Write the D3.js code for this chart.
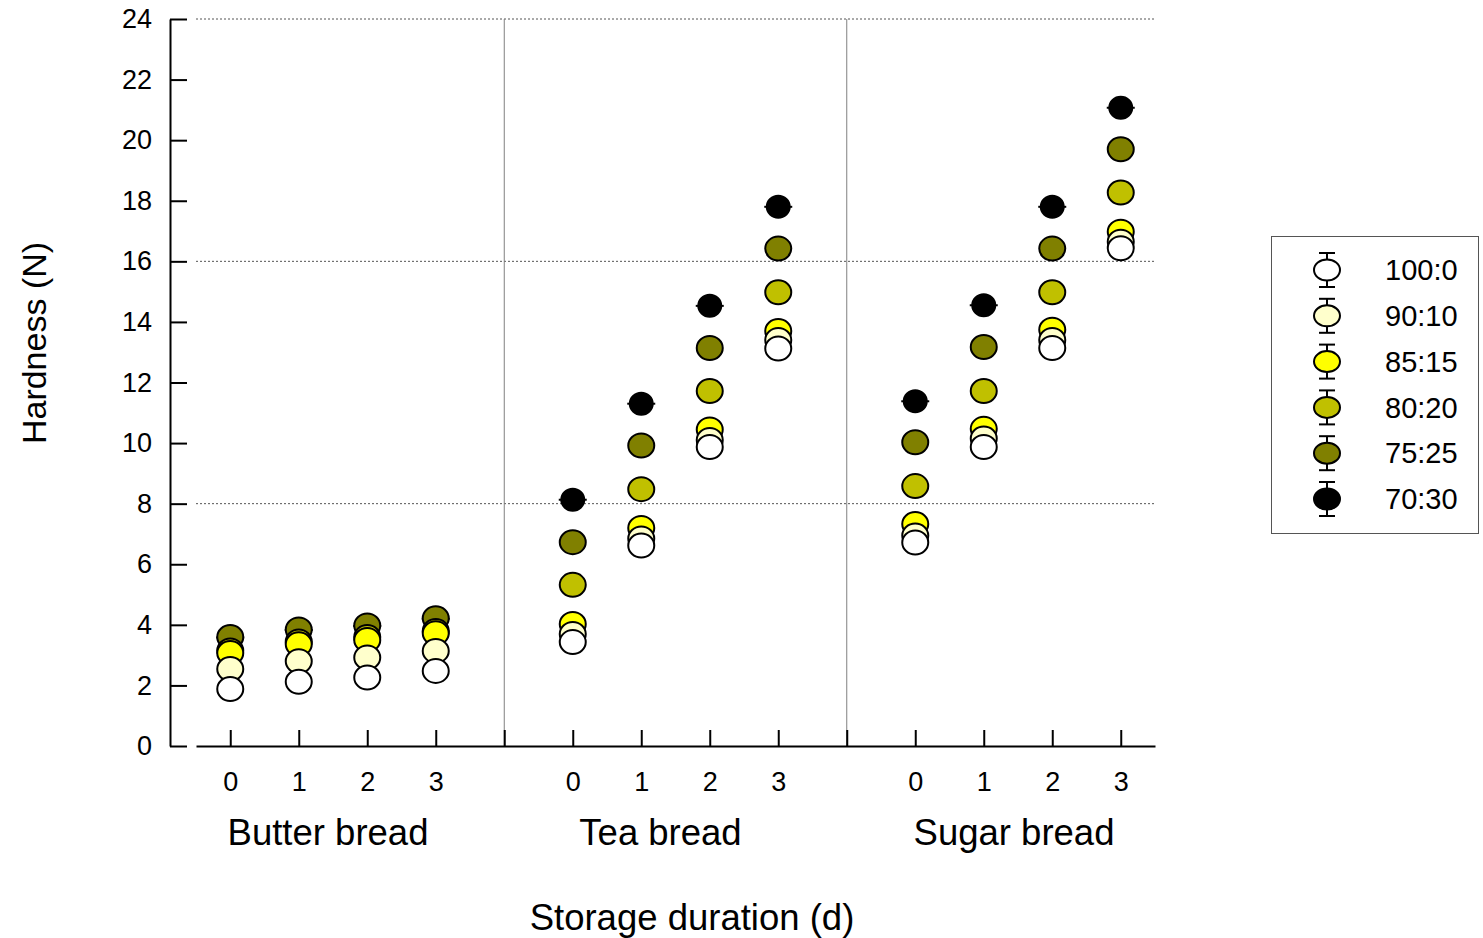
<!DOCTYPE html>
<html>
<head>
<meta charset="utf-8">
<script src="https://cdn.jsdelivr.net/npm/d3@7"></script>
<style>
  html, body { margin: 0; padding: 0; background: #fff; }
  svg { display: block; font-family: "Liberation Sans", Arial, sans-serif; }
</style>
</head>
<body>
<svg id="chart" width="1483" height="938"></svg>
<script>
// Bread types and storage days shown on the x axis
const breads = ["Butter bread", "Tea bread", "Sugar bread"];
const days = [0, 1, 2, 3];
const yTicks = [0, 2, 4, 6, 8, 10, 12, 14, 16, 18, 20, 22, 24];
const gridValues = [8, 16, 24];

// Substitution ratios (legend order) and their fill colours
const ratios = ["100:0", "90:10", "85:15", "80:20", "75:25", "70:30"];
const fills = ["#ffffff", "#ffffcc", "#ffff00", "#c0c000", "#808000", "#000000"];

// Hardness (N): butter d0-3, tea d0-3, sugar d0-3
const hard100_0 = [1.88, 2.12, 2.26, 2.48, 3.43, 6.62, 9.87, 13.12, 6.72, 9.87, 13.14, 16.43];
const hard90_10 = [2.54, 2.80, 2.92, 3.14, 3.70, 6.85, 10.10, 13.40, 6.95, 10.15, 13.40, 16.65];
const hard85_15 = [3.07, 3.36, 3.50, 3.72, 4.03, 7.20, 10.45, 13.70, 7.33, 10.47, 13.74, 16.98];
const hard80_20 = [3.15, 3.45, 3.60, 3.80, 5.32, 8.48, 11.72, 14.98, 8.58, 11.72, 14.98, 18.27];
const hard75_25 = [3.60, 3.85, 3.98, 4.22, 6.73, 9.92, 13.14, 16.42, 10.03, 13.17, 16.42, 19.70];
const hard70_30 = [3.58, 3.83, 3.96, 4.20, 8.13, 11.30, 14.53, 17.80, 11.38, 14.55, 17.80, 21.07];
const seriesValues = [hard100_0, hard90_10, hard85_15, hard80_20, hard75_25, hard70_30];

const svg = d3.select("#chart");

// Each bread occupies 4 slots plus one separator slot
const slotsPerGroup = days.length + 1;
const nSlots = breads.length * slotsPerGroup - 1;
const x = d3.scaleLinear().domain([-0.5, nSlots - 0.5]).range([196, 1155]);
const y = d3.scaleLinear().domain([0, 24]).range([746, 19]);
const slotOf = (g, d) => g * slotsPerGroup + d;

// Dotted horizontal reference lines
svg.append("g").selectAll("line").data(gridValues).join("line")
  .attr("x1", x.range()[0]).attr("x2", x.range()[1])
  .attr("y1", d => y(d)).attr("y2", d => y(d))
  .attr("stroke", "#555").attr("stroke-width", 1).attr("stroke-dasharray", "2,2");

// Vertical separators between bread types
const separators = d3.range(breads.length - 1).map(g => slotOf(g, days.length));
svg.append("g").selectAll("line").data(separators).join("line")
  .attr("x1", d => x(d)).attr("x2", d => x(d))
  .attr("y1", y(24)).attr("y2", y(0))
  .attr("stroke", "#808080").attr("stroke-width", 1);

// Y axis with inward ticks
const yAxis = svg.append("g").attr("transform", "translate(170,0)")
  .call(d3.axisLeft(y).tickValues(yTicks).tickSize(-17).tickSizeOuter(0).tickPadding(18));
yAxis.selectAll("path, line").attr("stroke", "#000").attr("stroke-width", 2);
yAxis.selectAll("text").attr("font-size", 27).attr("fill", "#000")
  .attr("font-family", "'Liberation Sans', Arial, sans-serif");

// X axis: one tick per slot, separators unlabeled
const slotTicks = d3.range(nSlots);
const slotLabel = s => (s % slotsPerGroup < days.length) ? String(days[s % slotsPerGroup]) : "";
const xAxis = svg.append("g").attr("transform", `translate(0,${y(0)})`)
  .call(d3.axisBottom(x).tickValues(slotTicks).tickFormat(slotLabel)
    .tickSize(-16).tickSizeOuter(0).tickPadding(26));
xAxis.selectAll("path, line").attr("stroke", "#000").attr("stroke-width", 2);
xAxis.selectAll("text").attr("font-size", 27).attr("fill", "#000")
  .attr("font-family", "'Liberation Sans', Arial, sans-serif");

// Bread group labels
const groupShift = [-5, -15, -4];
svg.append("g").selectAll("text").data(breads).join("text")
  .attr("x", (d, g) => (x(slotOf(g, 0)) + x(slotOf(g, days.length - 1))) / 2 + groupShift[g])
  .attr("y", 845)
  .attr("text-anchor", "middle").attr("font-size", 36.5).attr("fill", "#000")
  .text(d => d);

// Axis titles
svg.append("text").attr("x", 692).attr("y", 930)
  .attr("text-anchor", "middle").attr("font-size", 36.5).attr("fill", "#000")
  .text("Storage duration (d)");
svg.append("text").attr("transform", "translate(46,343) rotate(-90)")
  .attr("text-anchor", "middle").attr("font-size", 34).attr("fill", "#000")
  .text("Hardness (N)");

// Data points: last ratio drawn first so 100:0 sits on top
const points = [];
seriesValues.forEach((vals, si) => {
  vals.forEach((v, i) => {
    const g = Math.floor(i / days.length), d = i % days.length;
    points.push({ si, slot: slotOf(g, d), v });
  });
});
const blackIdx = ratios.length - 1;
const drawOrder = d3.range(ratios.length).reverse();
const layers = svg.append("g");
drawOrder.forEach(si => {
  const layer = layers.append("g");
  const pts = points.filter(p => p.si === si);
  const isBlack = si === blackIdx;
  if (isBlack) {
    layer.selectAll("line").data(pts).join("line")
      .attr("x1", p => x(p.slot) - 14).attr("x2", p => x(p.slot) + 14)
      .attr("y1", p => y(p.v)).attr("y2", p => y(p.v))
      .attr("stroke", "#000").attr("stroke-width", 2);
  }
  layer.selectAll("ellipse").data(pts).join("ellipse")
    .attr("cx", p => x(p.slot)).attr("cy", p => y(p.v))
    .attr("rx", isBlack ? 11.5 : 13).attr("ry", isBlack ? 11 : 12)
    .attr("fill", fills[si]).attr("stroke", "#000").attr("stroke-width", 2);
});

// Legend
const legend = svg.append("g");
legend.append("rect").attr("x", 1271.5).attr("y", 236.5).attr("width", 207).attr("height", 297)
  .attr("fill", "#fff").attr("stroke", "#555").attr("stroke-width", 1);
const ly = d3.scalePoint().domain(ratios).range([270, 499]);
const items = legend.selectAll("g.item").data(ratios).join("g").attr("class", "item")
  .attr("transform", d => `translate(1327,${ly(d)})`);
items.append("line").attr("x1", 0).attr("x2", 0).attr("y1", -17).attr("y2", 17)
  .attr("stroke", "#000").attr("stroke-width", 2);
items.append("line").attr("x1", -8).attr("x2", 8).attr("y1", -17).attr("y2", -17)
  .attr("stroke", "#000").attr("stroke-width", 2);
items.append("line").attr("x1", -8).attr("x2", 8).attr("y1", 17).attr("y2", 17)
  .attr("stroke", "#000").attr("stroke-width", 2);
items.append("ellipse").attr("rx", 13).attr("ry", 10.5)
  .attr("fill", (d, i) => fills[i]).attr("stroke", "#000").attr("stroke-width", 2);
items.append("text").attr("x", 58).attr("dy", "0.35em")
  .attr("font-size", 29).attr("fill", "#000").text(d => d);
</script>
</body>
</html>
